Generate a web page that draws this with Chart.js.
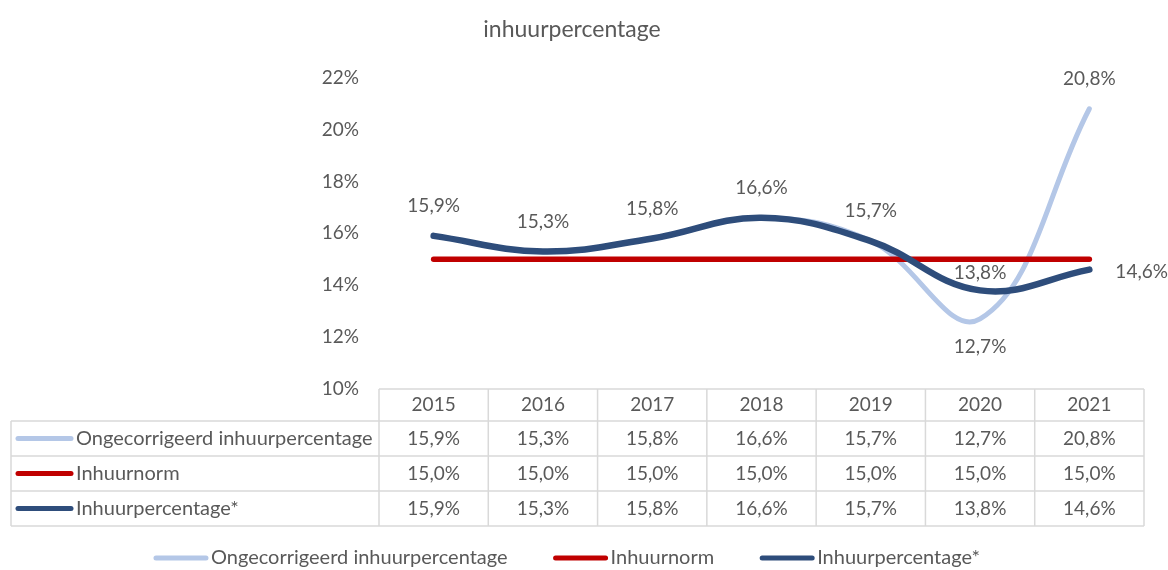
<!DOCTYPE html>
<html lang="nl">
<head>
    <meta charset="UTF-8">
    <title>inhuurpercentage</title>
    <script src="https://cdn.jsdelivr.net/npm/chart.js"></script>
    <style>
        html, body {
            margin: 0;
            padding: 0;
            background: #ffffff;
        }
        #wrap {
            width: 1168px;
            height: 570px;
        }
    </style>
</head>
<body>
    <div id="wrap"><canvas id="grafiek"></canvas></div>

    <script>
        // data
        const jaren = ['2015', '2016', '2017', '2018', '2019', '2020', '2021'];
        const ongecorrigeerd = [15.9, 15.3, 15.8, 16.6, 15.7, 12.7, 20.8];
        const inhuurnorm = [15.0, 15.0, 15.0, 15.0, 15.0, 15.0, 15.0];
        const inhuurpercentage = [15.9, 15.3, 15.8, 16.6, 15.7, 13.8, 14.6];
        const yTicks = [10, 12, 14, 16, 18, 20, 22];

        // waar de labels in de grafiek staan (leeg = geen label)
        const labelsOngecorrigeerd = ['', '', '', '', '', 'onder', 'boven'];
        const labelsInhuur = ['boven', 'boven', 'boven', 'boven', 'boven', 'dichtboven', 'rechts'];

        const FONT = 'Lato, "Open Sans", sans-serif';
        const GRIJS = '#595959';

        const fmt = v => v.toFixed(1).replace('.', ',') + '%';

        // labels bij de punten
        const puntLabels = {
            id: 'puntLabels',
            afterDatasetsDraw(chart) {
                const ctx = chart.ctx;
                ctx.save();
                ctx.font = '19px ' + FONT;
                ctx.fillStyle = GRIJS;
                ctx.textBaseline = 'middle';
                chart.data.datasets.forEach((ds, di) => {
                    const pos = ds.puntLabels;
                    if (!pos) return;
                    const meta = chart.getDatasetMeta(di);
                    meta.data.forEach((pt, i) => {
                        const p = pos[i];
                        if (!p) return;
                        let x = pt.x, y = pt.y;
                        ctx.textAlign = 'center';
                        if (p === 'boven') y -= 30;
                        else if (p === 'dichtboven') y -= 18;
                        else if (p === 'onder') y += 28;
                        else if (p === 'rechts') { x += 26; ctx.textAlign = 'left'; y += 2; }
                        ctx.fillText(fmt(ds.data[i]), x, y);
                    });
                });
                ctx.restore();
            }
        };

        // gegevenstabel onder de grafiek + legenda
        const tabel = {
            id: 'tabel',
            afterDraw(chart) {
                const ctx = chart.ctx;
                const xs = chart.scales.x;
                const top = chart.chartArea.bottom;
                const kopH = 32, rijH = 35;
                const links = 11;
                const kolW = (xs.right - xs.left) / jaren.length;
                const rijen = [0, 1, 2].map(i => chart.data.datasets.find(d => d.rij === i));
                const onder = top + kopH + rijen.length * rijH;

                ctx.save();
                ctx.strokeStyle = '#d9d9d9';
                ctx.lineWidth = 1.5;
                ctx.beginPath();
                ctx.moveTo(xs.left, top); ctx.lineTo(xs.right, top);
                for (let r = 0; r <= rijen.length; r++) {
                    const y = top + kopH + r * rijH;
                    ctx.moveTo(links, y); ctx.lineTo(xs.right, y);
                }
                ctx.moveTo(links, top + kopH); ctx.lineTo(links, onder);
                for (let k = 0; k <= jaren.length; k++) {
                    const x = xs.left + k * kolW;
                    ctx.moveTo(x, top); ctx.lineTo(x, onder);
                }
                ctx.stroke();

                const cijferFont = '19px ' + FONT;
                const tekstFont = '20px ' + FONT;
                ctx.font = cijferFont;
                ctx.fillStyle = GRIJS;
                ctx.textBaseline = 'middle';
                ctx.textAlign = 'center';
                jaren.forEach((j, i) => ctx.fillText(j, xs.getPixelForValue(i), top + kopH / 2));

                rijen.forEach((ds, r) => {
                    const y = top + kopH + r * rijH + rijH / 2;
                    ctx.strokeStyle = ds.borderColor;
                    ctx.lineWidth = 5;
                    ctx.lineCap = 'round';
                    ctx.beginPath();
                    ctx.moveTo(18, y); ctx.lineTo(71, y);
                    ctx.stroke();
                    ctx.font = tekstFont;
                    ctx.textAlign = 'left';
                    ctx.fillText(ds.label, 76, y);
                    ctx.font = cijferFont;
                    ctx.textAlign = 'center';
                    ds.data.forEach((v, i) => ctx.fillText(fmt(v), xs.getPixelForValue(i), y));
                });

                // legenda
                ctx.font = tekstFont;
                const ly = 558;
                const lijnW = 54, tussen = 3, gat = 46;
                const breedtes = rijen.map(ds => lijnW + tussen + ctx.measureText(ds.label).width);
                const totaal = breedtes.reduce((a, b) => a + b, 0) + gat * (rijen.length - 1);
                let lx = 567 - totaal / 2;
                rijen.forEach((ds, r) => {
                    ctx.strokeStyle = ds.borderColor;
                    ctx.lineWidth = 5;
                    ctx.lineCap = 'round';
                    ctx.beginPath();
                    ctx.moveTo(lx + 2, ly); ctx.lineTo(lx + lijnW - 2, ly);
                    ctx.stroke();
                    ctx.textAlign = 'left';
                    ctx.fillText(ds.label, lx + lijnW + tussen, ly);
                    lx += breedtes[r] + gat;
                });
                ctx.restore();
            }
        };

        const datasets = [
            {
                label: 'Ongecorrigeerd inhuurpercentage',
                data: ongecorrigeerd,
                borderColor: '#b4c7e7',
                borderWidth: 5,
                tension: 0.4,
                order: 2,
                rij: 0,
                puntLabels: labelsOngecorrigeerd
            },
            {
                label: 'Inhuurnorm',
                data: inhuurnorm,
                borderColor: '#c00000',
                borderWidth: 5.5,
                tension: 0,
                order: 1,
                rij: 1
            },
            {
                label: 'Inhuurpercentage*',
                data: inhuurpercentage,
                borderColor: '#2e4d7b',
                borderWidth: 6.5,
                tension: 0.4,
                order: 0,
                rij: 2,
                puntLabels: labelsInhuur
            }
        ];
        datasets.forEach(d => {
            d.pointRadius = 0;
            d.pointHoverRadius = 0;
            d.borderCapStyle = 'round';
            d.fill = false;
        });

        new Chart(document.getElementById('grafiek'), {
            type: 'line',
            data: { labels: jaren, datasets: datasets },
            options: {
                responsive: true,
                maintainAspectRatio: false,
                animation: false,
                events: [],
                layout: { padding: { left: 0, right: 24, top: 0, bottom: 0 } },
                plugins: {
                    legend: { display: false },
                    tooltip: { enabled: false },
                    title: {
                        display: true,
                        text: 'inhuurpercentage',
                        color: GRIJS,
                        font: { family: FONT, size: 23, weight: 'normal' },
                        padding: { top: 16, bottom: 34 }
                    }
                },
                scales: {
                    x: {
                        offset: true,
                        grid: { display: false, drawTicks: false },
                        border: { display: false },
                        ticks: { display: false },
                        afterFit: s => { s.height = 181; }
                    },
                    y: {
                        min: 10,
                        max: 22,
                        grid: { display: false, drawTicks: false },
                        border: { display: false },
                        afterBuildTicks: s => { s.ticks = yTicks.map(v => ({ value: v })); },
                        afterFit: s => { s.width = 379; },
                        ticks: {
                            padding: 20,
                            color: GRIJS,
                            font: { family: FONT, size: 19 },
                            callback: v => v + '%'
                        }
                    }
                }
            },
            plugins: [puntLabels, tabel]
        });
    </script>
</body>
</html>
